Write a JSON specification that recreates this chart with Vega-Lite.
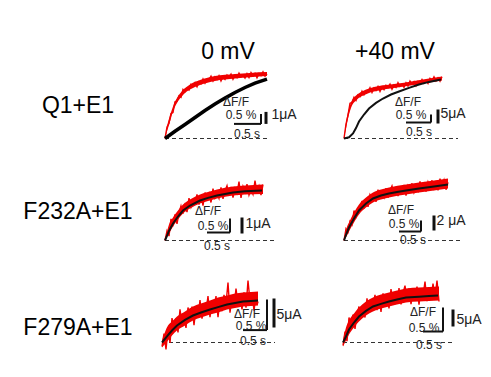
{
"$schema": "https://vega.github.io/schema/vega-lite/v6.json",
"padding": {"left": 23, "top": 40, "right": 0, "bottom": 0},
"background": "white",
"config": {"font": "Liberation Sans", "view": {"stroke": null}},
"datasets": {
"panels": [
{"p":1,"r":"Q1+E1","c":"0 mV"},{"p":2,"r":"Q1+E1","c":"+40 mV"},
{"p":3,"r":"F232A+E1","c":"0 mV"},{"p":4,"r":"F232A+E1","c":"+40 mV"},
{"p":5,"r":"F279A+E1","c":"0 mV"},{"p":6,"r":"F279A+E1","c":"+40 mV"}
],
"traces": [
{"p":1,"k":"R","t":0,"lo":0,"hi":0},{"p":1,"k":"R","t":0.04,"lo":0.35,"hi":0.6},{"p":1,"k":"R","t":0.1,"lo":0.85,"hi":1.15},{"p":1,"k":"R","t":0.16,"lo":1.35,"hi":1.6},{"p":1,"k":"R","t":0.24,"lo":1.78,"hi":2.02},{"p":1,"k":"R","t":0.36,"lo":2.18,"hi":2.42},{"p":1,"k":"R","t":0.5,"lo":2.45,"hi":2.7},{"p":1,"k":"R","t":0.7,"lo":2.68,"hi":2.92},{"p":1,"k":"R","t":1.0,"lo":2.88,"hi":3.12},{"p":1,"k":"R","t":1.4,"lo":3.0,"hi":3.22},{"p":1,"k":"R","t":1.7,"lo":3.06,"hi":3.28},{"p":1,"k":"R","t":2.04,"lo":3.12,"hi":3.32},
{"p":2,"k":"R","t":0,"lo":0,"hi":0},{"p":2,"k":"R","t":0.04,"lo":0.5,"hi":0.8},{"p":2,"k":"R","t":0.1,"lo":1.2,"hi":1.5},{"p":2,"k":"R","t":0.16,"lo":1.65,"hi":1.9},{"p":2,"k":"R","t":0.24,"lo":1.9,"hi":2.15},{"p":2,"k":"R","t":0.36,"lo":2.12,"hi":2.35},{"p":2,"k":"R","t":0.5,"lo":2.28,"hi":2.5},{"p":2,"k":"R","t":0.7,"lo":2.4,"hi":2.62},{"p":2,"k":"R","t":1.0,"lo":2.52,"hi":2.72},{"p":2,"k":"R","t":1.4,"lo":2.68,"hi":2.88},{"p":2,"k":"R","t":1.7,"lo":2.8,"hi":3.0},{"p":2,"k":"R","t":1.96,"lo":2.9,"hi":3.1},
{"p":3,"k":"R","t":0,"lo":0,"hi":0},{"p":3,"k":"R","t":0.08,"lo":0.35,"hi":0.8},{"p":3,"k":"R","t":0.16,"lo":0.7,"hi":1.15},{"p":3,"k":"R","t":0.26,"lo":1.05,"hi":1.5},{"p":3,"k":"R","t":0.36,"lo":1.35,"hi":1.8},{"p":3,"k":"R","t":0.5,"lo":1.6,"hi":2.05},{"p":3,"k":"R","t":0.7,"lo":1.85,"hi":2.3},{"p":3,"k":"R","t":0.86,"lo":1.98,"hi":2.42},{"p":3,"k":"R","t":1.04,"lo":2.1,"hi":2.55},{"p":3,"k":"R","t":1.36,"lo":2.25,"hi":2.7},{"p":3,"k":"R","t":1.6,"lo":2.3,"hi":2.75},{"p":3,"k":"R","t":1.96,"lo":2.33,"hi":2.8},
{"p":4,"k":"R","t":0,"lo":0,"hi":0},{"p":4,"k":"R","t":0.05,"lo":0.2,"hi":0.6},{"p":4,"k":"R","t":0.1,"lo":0.45,"hi":0.9},{"p":4,"k":"R","t":0.2,"lo":0.9,"hi":1.4},{"p":4,"k":"R","t":0.3,"lo":1.3,"hi":1.8},{"p":4,"k":"R","t":0.44,"lo":1.65,"hi":2.15},{"p":4,"k":"R","t":0.58,"lo":1.9,"hi":2.4},{"p":4,"k":"R","t":0.74,"lo":2.05,"hi":2.55},{"p":4,"k":"R","t":0.9,"lo":2.15,"hi":2.65},{"p":4,"k":"R","t":1.24,"lo":2.3,"hi":2.8},{"p":4,"k":"R","t":1.5,"lo":2.4,"hi":2.9},{"p":4,"k":"R","t":1.8,"lo":2.5,"hi":3.0},{"p":4,"k":"R","t":2.08,"lo":2.6,"hi":3.1},
{"p":5,"k":"R","t":-0.06,"lo":-0.25,"hi":0.1},{"p":5,"k":"R","t":0.06,"lo":0.1,"hi":0.85},{"p":5,"k":"R","t":0.14,"lo":0.35,"hi":1.05},{"p":5,"k":"R","t":0.24,"lo":0.6,"hi":1.3},{"p":5,"k":"R","t":0.4,"lo":0.85,"hi":1.55},{"p":5,"k":"R","t":0.56,"lo":1.1,"hi":1.8},{"p":5,"k":"R","t":0.72,"lo":1.25,"hi":1.95},{"p":5,"k":"R","t":0.9,"lo":1.4,"hi":2.1},{"p":5,"k":"R","t":1.06,"lo":1.5,"hi":2.25},{"p":5,"k":"R","t":1.24,"lo":1.65,"hi":2.35},{"p":5,"k":"R","t":1.4,"lo":1.72,"hi":2.45},{"p":5,"k":"R","t":1.56,"lo":1.8,"hi":2.5},{"p":5,"k":"R","t":1.72,"lo":1.83,"hi":2.53},{"p":5,"k":"R","t":1.86,"lo":1.85,"hi":2.55},
{"p":6,"k":"R","t":-0.02,"lo":-0.2,"hi":0.1},{"p":6,"k":"R","t":0.04,"lo":0.1,"hi":0.75},{"p":6,"k":"R","t":0.1,"lo":0.4,"hi":1.1},{"p":6,"k":"R","t":0.2,"lo":0.75,"hi":1.45},{"p":6,"k":"R","t":0.3,"lo":1.05,"hi":1.75},{"p":6,"k":"R","t":0.44,"lo":1.35,"hi":2.05},{"p":6,"k":"R","t":0.58,"lo":1.55,"hi":2.25},{"p":6,"k":"R","t":0.74,"lo":1.7,"hi":2.4},{"p":6,"k":"R","t":0.9,"lo":1.8,"hi":2.5},{"p":6,"k":"R","t":1.06,"lo":1.9,"hi":2.6},{"p":6,"k":"R","t":1.24,"lo":2.0,"hi":2.7},{"p":6,"k":"R","t":1.5,"lo":2.05,"hi":2.75},{"p":6,"k":"R","t":1.7,"lo":2.08,"hi":2.78},{"p":6,"k":"R","t":1.9,"lo":2.1,"hi":2.8},
{"p":1,"k":"F","t":0,"v":0},{"p":1,"k":"F","t":0.04,"v":0.57},{"p":1,"k":"F","t":0.08,"v":0.76},{"p":1,"k":"F","t":0.12,"v":1.25},{"p":1,"k":"F","t":0.16,"v":1.3},{"p":1,"k":"F","t":0.2,"v":1.84},{"p":1,"k":"F","t":0.24,"v":1.87},{"p":1,"k":"F","t":0.28,"v":2.13},{"p":1,"k":"F","t":0.32,"v":2.06},{"p":1,"k":"F","t":0.36,"v":2.45},{"p":1,"k":"F","t":0.4,"v":2.34},{"p":1,"k":"F","t":0.44,"v":2.5},{"p":1,"k":"F","t":0.48,"v":2.42},{"p":1,"k":"F","t":0.52,"v":2.71},{"p":1,"k":"F","t":0.56,"v":2.62},{"p":1,"k":"F","t":0.6,"v":2.79},{"p":1,"k":"F","t":0.64,"v":2.59},{"p":1,"k":"F","t":0.68,"v":2.84},{"p":1,"k":"F","t":0.72,"v":2.74},{"p":1,"k":"F","t":0.76,"v":2.98},{"p":1,"k":"F","t":0.8,"v":2.77},{"p":1,"k":"F","t":0.84,"v":2.97},{"p":1,"k":"F","t":0.88,"v":2.93},{"p":1,"k":"F","t":0.92,"v":3.12},{"p":1,"k":"F","t":0.96,"v":2.87},{"p":1,"k":"F","t":1.0,"v":3.08},{"p":1,"k":"F","t":1.04,"v":2.95},{"p":1,"k":"F","t":1.08,"v":3.14},{"p":1,"k":"F","t":1.12,"v":2.88},{"p":1,"k":"F","t":1.16,"v":3.09},{"p":1,"k":"F","t":1.2,"v":2.96},{"p":1,"k":"F","t":1.24,"v":3.17},{"p":1,"k":"F","t":1.28,"v":3.06},{"p":1,"k":"F","t":1.32,"v":3.22},{"p":1,"k":"F","t":1.36,"v":2.96},{"p":1,"k":"F","t":1.4,"v":3.16},{"p":1,"k":"F","t":1.44,"v":3.04},{"p":1,"k":"F","t":1.48,"v":3.27},{"p":1,"k":"F","t":1.52,"v":3.08},{"p":1,"k":"F","t":1.56,"v":3.16},{"p":1,"k":"F","t":1.6,"v":3.02},{"p":1,"k":"F","t":1.64,"v":3.24},{"p":1,"k":"F","t":1.68,"v":3.05},{"p":1,"k":"F","t":1.72,"v":3.3},{"p":1,"k":"F","t":1.76,"v":3.14},{"p":1,"k":"F","t":1.8,"v":3.26},{"p":1,"k":"F","t":1.84,"v":3.03},{"p":1,"k":"F","t":1.88,"v":3.24},{"p":1,"k":"F","t":1.92,"v":3.14},{"p":1,"k":"F","t":1.96,"v":3.33},{"p":1,"k":"F","t":2.0,"v":3.12},{"p":1,"k":"F","t":2.04,"v":3.24},
{"p":2,"k":"F","t":0,"v":0},{"p":2,"k":"F","t":0.04,"v":0.72},{"p":2,"k":"F","t":0.08,"v":1.17},{"p":2,"k":"F","t":0.12,"v":1.76},{"p":2,"k":"F","t":0.16,"v":1.81},{"p":2,"k":"F","t":0.2,"v":2.06},{"p":2,"k":"F","t":0.24,"v":1.9},{"p":2,"k":"F","t":0.28,"v":2.18},{"p":2,"k":"F","t":0.32,"v":2.1},{"p":2,"k":"F","t":0.36,"v":2.37},{"p":2,"k":"F","t":0.4,"v":2.18},{"p":2,"k":"F","t":0.44,"v":2.35},{"p":2,"k":"F","t":0.48,"v":2.33},{"p":2,"k":"F","t":0.52,"v":2.54},{"p":2,"k":"F","t":0.56,"v":2.3},{"p":2,"k":"F","t":0.6,"v":2.52},{"p":2,"k":"F","t":0.64,"v":2.4},{"p":2,"k":"F","t":0.68,"v":2.6},{"p":2,"k":"F","t":0.72,"v":2.35},{"p":2,"k":"F","t":0.76,"v":2.57},{"p":2,"k":"F","t":0.8,"v":2.44},{"p":2,"k":"F","t":0.84,"v":2.66},{"p":2,"k":"F","t":0.88,"v":2.55},{"p":2,"k":"F","t":0.92,"v":2.72},{"p":2,"k":"F","t":0.96,"v":2.46},{"p":2,"k":"F","t":1.0,"v":2.67},{"p":2,"k":"F","t":1.04,"v":2.55},{"p":2,"k":"F","t":1.08,"v":2.79},{"p":2,"k":"F","t":1.12,"v":2.61},{"p":2,"k":"F","t":1.16,"v":2.7},{"p":2,"k":"F","t":1.2,"v":2.56},{"p":2,"k":"F","t":1.24,"v":2.79},{"p":2,"k":"F","t":1.28,"v":2.62},{"p":2,"k":"F","t":1.32,"v":2.87},{"p":2,"k":"F","t":1.36,"v":2.72},{"p":2,"k":"F","t":1.4,"v":2.85},{"p":2,"k":"F","t":1.44,"v":2.63},{"p":2,"k":"F","t":1.48,"v":2.85},{"p":2,"k":"F","t":1.52,"v":2.76},{"p":2,"k":"F","t":1.56,"v":2.95},{"p":2,"k":"F","t":1.6,"v":2.76},{"p":2,"k":"F","t":1.64,"v":2.89},{"p":2,"k":"F","t":1.68,"v":2.75},{"p":2,"k":"F","t":1.72,"v":3.01},{"p":2,"k":"F","t":1.76,"v":2.88},{"p":2,"k":"F","t":1.8,"v":3.08},{"p":2,"k":"F","t":1.84,"v":2.88},{"p":2,"k":"F","t":1.88,"v":3.03},{"p":2,"k":"F","t":1.92,"v":2.86},{"p":2,"k":"F","t":1.96,"v":3.09},
{"p":3,"k":"F","t":0,"v":0},{"p":3,"k":"F","t":0.04,"v":0.48},{"p":3,"k":"F","t":0.08,"v":0.22},{"p":3,"k":"F","t":0.12,"v":1.08},{"p":3,"k":"F","t":0.16,"v":0.8},{"p":3,"k":"F","t":0.2,"v":1.3},{"p":3,"k":"F","t":0.24,"v":0.83},{"p":3,"k":"F","t":0.28,"v":1.39},{"p":3,"k":"F","t":0.32,"v":1.73},{"p":3,"k":"F","t":0.36,"v":1.34},{"p":3,"k":"F","t":0.4,"v":1.77},{"p":3,"k":"F","t":0.44,"v":1.42},{"p":3,"k":"F","t":0.48,"v":2.12},{"p":3,"k":"F","t":0.52,"v":1.67},{"p":3,"k":"F","t":0.56,"v":2.0},{"p":3,"k":"F","t":0.6,"v":1.88},{"p":3,"k":"F","t":0.64,"v":2.31},{"p":3,"k":"F","t":0.68,"v":1.79},{"p":3,"k":"F","t":0.72,"v":2.27},{"p":3,"k":"F","t":0.76,"v":1.74},{"p":3,"k":"F","t":0.8,"v":2.4},{"p":3,"k":"F","t":0.84,"v":2.12},{"p":3,"k":"F","t":0.88,"v":2.36},{"p":3,"k":"F","t":0.92,"v":1.9},{"p":3,"k":"F","t":0.96,"v":2.59},{"p":3,"k":"F","t":1.0,"v":2.13},{"p":3,"k":"F","t":1.04,"v":2.37},{"p":3,"k":"F","t":1.08,"v":2.11},{"p":3,"k":"F","t":1.12,"v":2.66},{"p":3,"k":"F","t":1.16,"v":2.08},{"p":3,"k":"F","t":1.2,"v":2.48},{"p":3,"k":"F","t":1.24,"v":2.74},{"p":3,"k":"F","t":1.28,"v":2.24},{"p":3,"k":"F","t":1.32,"v":2.68},{"p":3,"k":"F","t":1.36,"v":2.14},{"p":3,"k":"F","t":1.4,"v":2.6},{"p":3,"k":"F","t":1.44,"v":2.37},{"p":3,"k":"F","t":1.48,"v":2.95},{"p":3,"k":"F","t":1.52,"v":2.13},{"p":3,"k":"F","t":1.56,"v":2.7},{"p":3,"k":"F","t":1.6,"v":2.42},{"p":3,"k":"F","t":1.64,"v":2.82},{"p":3,"k":"F","t":1.68,"v":2.27},{"p":3,"k":"F","t":1.72,"v":2.56},{"p":3,"k":"F","t":1.76,"v":2.31},{"p":3,"k":"F","t":1.8,"v":3.0},{"p":3,"k":"F","t":1.84,"v":2.4},{"p":3,"k":"F","t":1.88,"v":2.72},{"p":3,"k":"F","t":1.92,"v":2.27},{"p":3,"k":"F","t":1.96,"v":2.8},
{"p":4,"k":"F","t":0,"v":0},{"p":4,"k":"F","t":0.04,"v":0.59},{"p":4,"k":"F","t":0.08,"v":0.42},{"p":4,"k":"F","t":0.12,"v":0.95},{"p":4,"k":"F","t":0.16,"v":0.79},{"p":4,"k":"F","t":0.2,"v":1.5},{"p":4,"k":"F","t":0.24,"v":1.2},{"p":4,"k":"F","t":0.28,"v":1.58},{"p":4,"k":"F","t":0.32,"v":1.55},{"p":4,"k":"F","t":0.36,"v":1.98},{"p":4,"k":"F","t":0.4,"v":1.6},{"p":4,"k":"F","t":0.44,"v":2.08},{"p":4,"k":"F","t":0.48,"v":1.68},{"p":4,"k":"F","t":0.52,"v":2.29},{"p":4,"k":"F","t":0.56,"v":2.09},{"p":4,"k":"F","t":0.6,"v":2.31},{"p":4,"k":"F","t":0.64,"v":1.93},{"p":4,"k":"F","t":0.68,"v":2.54},{"p":4,"k":"F","t":0.72,"v":2.15},{"p":4,"k":"F","t":0.76,"v":2.36},{"p":4,"k":"F","t":0.8,"v":2.15},{"p":4,"k":"F","t":0.84,"v":2.62},{"p":4,"k":"F","t":0.88,"v":2.14},{"p":4,"k":"F","t":0.92,"v":2.5},{"p":4,"k":"F","t":0.96,"v":2.73},{"p":4,"k":"F","t":1.0,"v":2.3},{"p":4,"k":"F","t":1.04,"v":2.68},{"p":4,"k":"F","t":1.08,"v":2.22},{"p":4,"k":"F","t":1.12,"v":2.63},{"p":4,"k":"F","t":1.16,"v":2.43},{"p":4,"k":"F","t":1.2,"v":2.78},{"p":4,"k":"F","t":1.24,"v":2.25},{"p":4,"k":"F","t":1.28,"v":2.74},{"p":4,"k":"F","t":1.32,"v":2.52},{"p":4,"k":"F","t":1.36,"v":2.86},{"p":4,"k":"F","t":1.4,"v":2.4},{"p":4,"k":"F","t":1.44,"v":2.65},{"p":4,"k":"F","t":1.48,"v":2.46},{"p":4,"k":"F","t":1.52,"v":2.95},{"p":4,"k":"F","t":1.56,"v":2.54},{"p":4,"k":"F","t":1.6,"v":2.83},{"p":4,"k":"F","t":1.64,"v":2.45},{"p":4,"k":"F","t":1.68,"v":2.92},{"p":4,"k":"F","t":1.72,"v":2.63},{"p":4,"k":"F","t":1.76,"v":3.01},{"p":4,"k":"F","t":1.8,"v":2.6},{"p":4,"k":"F","t":1.84,"v":2.91},{"p":4,"k":"F","t":1.88,"v":2.51},{"p":4,"k":"F","t":1.92,"v":3.09},{"p":4,"k":"F","t":1.96,"v":2.72},{"p":4,"k":"F","t":2.0,"v":3.03},{"p":4,"k":"F","t":2.04,"v":2.54},{"p":4,"k":"F","t":2.08,"v":2.91},
{"p":5,"k":"F","t":-0.06,"v":-0.2},{"p":5,"k":"F","t":-0.02,"v":0.45},{"p":5,"k":"F","t":0.02,"v":-0.35},{"p":5,"k":"F","t":0.06,"v":0.65},{"p":5,"k":"F","t":0.1,"v":-0.02},{"p":5,"k":"F","t":0.14,"v":1.22},{"p":5,"k":"F","t":0.18,"v":0.66},{"p":5,"k":"F","t":0.22,"v":1.2},{"p":5,"k":"F","t":0.26,"v":0.5},{"p":5,"k":"F","t":0.3,"v":1.66},{"p":5,"k":"F","t":0.34,"v":0.89},{"p":5,"k":"F","t":0.38,"v":1.26},{"p":5,"k":"F","t":0.42,"v":0.73},{"p":5,"k":"F","t":0.46,"v":1.75},{"p":5,"k":"F","t":0.5,"v":1.21},{"p":5,"k":"F","t":0.54,"v":1.8},{"p":5,"k":"F","t":0.58,"v":0.87},{"p":5,"k":"F","t":0.62,"v":1.75},{"p":5,"k":"F","t":0.66,"v":1.25},{"p":5,"k":"F","t":0.7,"v":2.12},{"p":5,"k":"F","t":0.74,"v":1.19},{"p":5,"k":"F","t":0.78,"v":1.77},{"p":5,"k":"F","t":0.82,"v":1.56},{"p":5,"k":"F","t":0.86,"v":2.32},{"p":5,"k":"F","t":0.9,"v":1.27},{"p":5,"k":"F","t":0.94,"v":2.08},{"p":5,"k":"F","t":0.98,"v":1.57},{"p":5,"k":"F","t":1.02,"v":2.32},{"p":5,"k":"F","t":1.06,"v":1.27},{"p":5,"k":"F","t":1.1,"v":2.08},{"p":5,"k":"F","t":1.14,"v":1.57},{"p":5,"k":"F","t":1.18,"v":2.38},{"p":5,"k":"F","t":1.22,"v":1.93},{"p":5,"k":"F","t":1.26,"v":3.0},{"p":5,"k":"F","t":1.3,"v":1.49},{"p":5,"k":"F","t":1.34,"v":2.29},{"p":5,"k":"F","t":1.38,"v":1.77},{"p":5,"k":"F","t":1.42,"v":2.69},{"p":5,"k":"F","t":1.46,"v":1.93},{"p":5,"k":"F","t":1.5,"v":2.25},{"p":5,"k":"F","t":1.54,"v":1.66},{"p":5,"k":"F","t":1.58,"v":2.51},{"p":5,"k":"F","t":1.62,"v":1.74},{"p":5,"k":"F","t":1.66,"v":3.1},{"p":5,"k":"F","t":1.7,"v":2.06},{"p":5,"k":"F","t":1.74,"v":2.48},{"p":5,"k":"F","t":1.78,"v":1.59},{"p":5,"k":"F","t":1.82,"v":2.38},{"p":5,"k":"F","t":1.86,"v":1.96},
{"p":6,"k":"F","t":-0.02,"v":-0.15},{"p":6,"k":"F","t":0.02,"v":0.55},{"p":6,"k":"F","t":0.06,"v":0.07},{"p":6,"k":"F","t":0.1,"v":1.25},{"p":6,"k":"F","t":0.14,"v":0.75},{"p":6,"k":"F","t":0.18,"v":1.4},{"p":6,"k":"F","t":0.22,"v":0.68},{"p":6,"k":"F","t":0.26,"v":1.4},{"p":6,"k":"F","t":0.3,"v":1.8},{"p":6,"k":"F","t":0.34,"v":1.19},{"p":6,"k":"F","t":0.38,"v":1.77},{"p":6,"k":"F","t":0.42,"v":1.25},{"p":6,"k":"F","t":0.46,"v":2.21},{"p":6,"k":"F","t":0.5,"v":1.52},{"p":6,"k":"F","t":0.54,"v":1.98},{"p":6,"k":"F","t":0.58,"v":1.8},{"p":6,"k":"F","t":0.62,"v":2.38},{"p":6,"k":"F","t":0.66,"v":1.62},{"p":6,"k":"F","t":0.7,"v":2.3},{"p":6,"k":"F","t":0.74,"v":1.53},{"p":6,"k":"F","t":0.78,"v":2.46},{"p":6,"k":"F","t":0.82,"v":2.04},{"p":6,"k":"F","t":0.86,"v":2.37},{"p":6,"k":"F","t":0.9,"v":1.7},{"p":6,"k":"F","t":0.94,"v":2.67},{"p":6,"k":"F","t":0.98,"v":2.0},{"p":6,"k":"F","t":1.02,"v":2.32},{"p":6,"k":"F","t":1.06,"v":1.95},{"p":6,"k":"F","t":1.1,"v":2.72},{"p":6,"k":"F","t":1.14,"v":1.9},{"p":6,"k":"F","t":1.18,"v":2.47},{"p":6,"k":"F","t":1.22,"v":2.84},{"p":6,"k":"F","t":1.26,"v":2.1},{"p":6,"k":"F","t":1.3,"v":2.71},{"p":6,"k":"F","t":1.34,"v":1.92},{"p":6,"k":"F","t":1.38,"v":2.57},{"p":6,"k":"F","t":1.42,"v":2.23},{"p":6,"k":"F","t":1.46,"v":2.79},{"p":6,"k":"F","t":1.5,"v":1.89},{"p":6,"k":"F","t":1.54,"v":2.7},{"p":6,"k":"F","t":1.58,"v":2.31},{"p":6,"k":"F","t":1.62,"v":3.05},{"p":6,"k":"F","t":1.66,"v":2.07},{"p":6,"k":"F","t":1.7,"v":2.48},{"p":6,"k":"F","t":1.74,"v":2.13},{"p":6,"k":"F","t":1.78,"v":2.94},{"p":6,"k":"F","t":1.82,"v":2.24},{"p":6,"k":"F","t":1.86,"v":3.1},{"p":6,"k":"F","t":1.9,"v":2.05},
{"p":1,"k":"I","t":0,"v":0},{"p":1,"k":"I","t":0.2,"v":0.36},{"p":1,"k":"I","t":0.4,"v":0.7},{"p":1,"k":"I","t":0.6,"v":1.05},{"p":1,"k":"I","t":0.8,"v":1.4},{"p":1,"k":"I","t":1.0,"v":1.72},{"p":1,"k":"I","t":1.2,"v":2.02},{"p":1,"k":"I","t":1.4,"v":2.3},{"p":1,"k":"I","t":1.6,"v":2.55},{"p":1,"k":"I","t":1.8,"v":2.77},{"p":1,"k":"I","t":2.04,"v":2.97},
{"p":2,"k":"I","t":0,"v":0},{"p":2,"k":"I","t":0.1,"v":0.06},{"p":2,"k":"I","t":0.18,"v":0.25},{"p":2,"k":"I","t":0.24,"v":0.52},{"p":2,"k":"I","t":0.3,"v":0.85},{"p":2,"k":"I","t":0.4,"v":1.2},{"p":2,"k":"I","t":0.5,"v":1.5},{"p":2,"k":"I","t":0.64,"v":1.78},{"p":2,"k":"I","t":0.78,"v":2.0},{"p":2,"k":"I","t":0.94,"v":2.2},{"p":2,"k":"I","t":1.1,"v":2.35},{"p":2,"k":"I","t":1.3,"v":2.53},{"p":2,"k":"I","t":1.5,"v":2.7},{"p":2,"k":"I","t":1.7,"v":2.83},{"p":2,"k":"I","t":1.94,"v":2.95},
{"p":3,"k":"I","t":0,"v":0},{"p":3,"k":"I","t":0.08,"v":0.48},{"p":3,"k":"I","t":0.16,"v":0.85},{"p":3,"k":"I","t":0.26,"v":1.2},{"p":3,"k":"I","t":0.36,"v":1.5},{"p":3,"k":"I","t":0.5,"v":1.75},{"p":3,"k":"I","t":0.7,"v":2.0},{"p":3,"k":"I","t":0.86,"v":2.13},{"p":3,"k":"I","t":1.04,"v":2.25},{"p":3,"k":"I","t":1.2,"v":2.33},{"p":3,"k":"I","t":1.36,"v":2.4},{"p":3,"k":"I","t":1.6,"v":2.46},{"p":3,"k":"I","t":1.94,"v":2.5},
{"p":4,"k":"I","t":0,"v":0},{"p":4,"k":"I","t":0.05,"v":0.35},{"p":4,"k":"I","t":0.1,"v":0.65},{"p":4,"k":"I","t":0.2,"v":1.1},{"p":4,"k":"I","t":0.3,"v":1.5},{"p":4,"k":"I","t":0.44,"v":1.85},{"p":4,"k":"I","t":0.58,"v":2.1},{"p":4,"k":"I","t":0.74,"v":2.25},{"p":4,"k":"I","t":0.9,"v":2.35},{"p":4,"k":"I","t":1.06,"v":2.43},{"p":4,"k":"I","t":1.24,"v":2.5},{"p":4,"k":"I","t":1.5,"v":2.6},{"p":4,"k":"I","t":1.8,"v":2.7},{"p":4,"k":"I","t":2.08,"v":2.8},
{"p":5,"k":"I","t":-0.06,"v":0},{"p":5,"k":"I","t":0.06,"v":0.37},{"p":5,"k":"I","t":0.14,"v":0.6},{"p":5,"k":"I","t":0.24,"v":0.85},{"p":5,"k":"I","t":0.4,"v":1.13},{"p":5,"k":"I","t":0.56,"v":1.35},{"p":5,"k":"I","t":0.72,"v":1.5},{"p":5,"k":"I","t":0.9,"v":1.65},{"p":5,"k":"I","t":1.06,"v":1.77},{"p":5,"k":"I","t":1.24,"v":1.9},{"p":5,"k":"I","t":1.4,"v":1.98},{"p":5,"k":"I","t":1.56,"v":2.05},{"p":5,"k":"I","t":1.72,"v":2.08},{"p":5,"k":"I","t":1.86,"v":2.1},
{"p":6,"k":"I","t":-0.02,"v":0},{"p":6,"k":"I","t":0.04,"v":0.3},{"p":6,"k":"I","t":0.1,"v":0.65},{"p":6,"k":"I","t":0.2,"v":1.0},{"p":6,"k":"I","t":0.3,"v":1.3},{"p":6,"k":"I","t":0.44,"v":1.58},{"p":6,"k":"I","t":0.58,"v":1.8},{"p":6,"k":"I","t":0.74,"v":1.93},{"p":6,"k":"I","t":0.9,"v":2.05},{"p":6,"k":"I","t":1.06,"v":2.15},{"p":6,"k":"I","t":1.24,"v":2.25},{"p":6,"k":"I","t":1.5,"v":2.29},{"p":6,"k":"I","t":1.7,"v":2.33},{"p":6,"k":"I","t":1.88,"v":2.35},
{"p":1,"k":"B","t":0,"t2":2.04,"v":0},{"p":2,"k":"B","t":0,"t2":2.28,"v":0},{"p":3,"k":"B","t":0,"t2":2.2,"v":0},{"p":4,"k":"B","t":0,"t2":2.34,"v":0},{"p":5,"k":"B","t":-0.06,"t2":2.2,"v":0},{"p":6,"k":"B","t":-0.02,"t2":2.18,"v":0},
{"p":1,"k":"L","t":1.38,"t2":1.92,"v":0.73,"v2":0.73},{"p":1,"k":"L","t":1.92,"t2":1.92,"v":0.73,"v2":1.23},
{"p":2,"k":"L","t":1.24,"t2":1.74,"v":0.8,"v2":0.8},{"p":2,"k":"L","t":1.74,"t2":1.74,"v":0.8,"v2":1.2},
{"p":3,"k":"L","t":0.84,"t2":1.3,"v":0.4,"v2":0.4},{"p":3,"k":"L","t":1.3,"t2":1.3,"v":0.4,"v2":1.1},
{"p":4,"k":"L","t":1.1,"t2":1.54,"v":0.45,"v2":0.45},{"p":4,"k":"L","t":1.54,"t2":1.54,"v":0.45,"v2":1.0},
{"p":5,"k":"L","t":1.56,"t2":2.04,"v":0.62,"v2":0.62},{"p":5,"k":"L","t":2.04,"t2":2.04,"v":0.62,"v2":2.15},
{"p":6,"k":"L","t":1.58,"t2":1.98,"v":0.55,"v2":0.55},{"p":6,"k":"L","t":1.98,"t2":1.98,"v":0.55,"v2":1.75},
{"p":1,"k":"C","t":2.02,"v":0.73,"v2":1.33},{"p":2,"k":"C","t":1.88,"v":0.75,"v2":1.45},{"p":3,"k":"C","t":1.54,"v":0.35,"v2":1.15},{"p":4,"k":"C","t":1.8,"v":0.5,"v2":1.25},{"p":5,"k":"C","t":2.18,"v":0.75,"v2":2.2},{"p":6,"k":"C","t":2.18,"v":0.8,"v2":1.65},
{"p":1,"k":"T","t":1.42,"v":1.83,"txt":"ΔF/F"},{"p":1,"k":"T","t":1.52,"v":1.18,"txt":"0.5 %"},{"p":1,"k":"T","t":1.64,"v":0.23,"txt":"0.5 s"},{"p":1,"k":"U","t":2.38,"v":1.18,"txt":"1μA"},
{"p":2,"k":"T","t":1.28,"v":1.85,"txt":"ΔF/F"},{"p":2,"k":"T","t":1.34,"v":1.2,"txt":"0.5 %"},{"p":2,"k":"T","t":1.5,"v":0.35,"txt":"0.5 s"},{"p":2,"k":"U","t":2.18,"v":1.25,"txt":"5μA"},
{"p":3,"k":"T","t":0.86,"v":1.5,"txt":"ΔF/F"},{"p":3,"k":"T","t":0.96,"v":0.75,"txt":"0.5 %"},{"p":3,"k":"T","t":1.04,"v":-0.25,"txt":"0.5 s"},{"p":3,"k":"U","t":1.86,"v":0.85,"txt":"1μA"},
{"p":4,"k":"T","t":1.14,"v":1.55,"txt":"ΔF/F"},{"p":4,"k":"T","t":1.2,"v":0.85,"txt":"0.5 %"},{"p":4,"k":"T","t":1.38,"v":0.05,"txt":"0.5 s"},{"p":4,"k":"U","t":2.14,"v":1.0,"txt":"2 μA"},
{"p":5,"k":"T","t":1.64,"v":1.45,"txt":"ΔF/F"},{"p":5,"k":"T","t":1.72,"v":0.85,"txt":"0.5 %"},{"p":5,"k":"T","t":1.76,"v":0.1,"txt":"0.5 s"},{"p":5,"k":"U","t":2.48,"v":1.4,"txt":"5μA"},
{"p":6,"k":"T","t":1.58,"v":1.55,"txt":"ΔF/F"},{"p":6,"k":"T","t":1.6,"v":0.72,"txt":"0.5 %"},{"p":6,"k":"T","t":1.7,"v":-0.1,"txt":"0.5 s"},{"p":6,"k":"U","t":2.5,"v":1.12,"txt":"5μA"},
{"p":1,"k":"H","t":1.26,"v":4.35,"txt":"0 mV"},{"p":2,"k":"H","t":1.02,"v":4.35,"txt":"+40 mV"},
{"p":1,"k":"H","t":-1.74,"v":1.65,"txt":"Q1+E1"},{"p":3,"k":"H","t":-1.74,"v":1.45,"txt":"F232A+E1"},{"p":5,"k":"H","t":-1.74,"v":0.75,"txt":"F279A+E1"}
]
},
"data": {"name": "traces"},
"transform": [{"lookup": "p", "from": {"data": {"name": "panels"}, "key": "p", "fields": ["r", "c"]}}],
"facet": {
"row": {"field": "r", "type": "nominal", "sort": ["Q1+E1", "F232A+E1", "F279A+E1"], "title": null, "header": {"labels": false}},
"column": {"field": "c", "type": "nominal", "sort": ["0 mV", "+40 mV"], "title": null, "header": {"labels": false}}
},
"spacing": {"row": 12, "column": 23},
"spec": {
"width": 150,
"height": 90,
"encoding": {
 "x": {"field": "t", "type": "quantitative", "scale": {"domain": [-0.36, 2.64], "nice": false, "zero": false}, "axis": null},
 "y": {"field": "v", "type": "quantitative", "scale": {"domain": [-0.925, 3.575], "nice": false, "zero": false}, "axis": null}
},
"layer": [
 {"transform": [{"filter": "datum.k == 'B'"}], "mark": {"type": "rule", "color": "#333", "strokeWidth": 1, "strokeDash": [4, 3]}, "encoding": {"x2": {"field": "t2"}}},
 {"transform": [{"filter": "datum.k == 'R'"}], "mark": {"type": "area", "color": "#f00000", "opacity": 1, "interpolate": "monotone"}, "encoding": {"y": {"field": "lo", "type": "quantitative", "scale": {"domain": [-0.925, 3.575], "nice": false, "zero": false}, "axis": null}, "y2": {"field": "hi"}}},
 {"transform": [{"filter": "datum.k == 'F'"}], "mark": {"type": "line", "color": "#f00000", "strokeWidth": 1.4}},
 {"transform": [{"filter": "datum.k == 'I' && datum.p == 1"}], "mark": {"type": "line", "color": "#000", "strokeWidth": 3.5}},
 {"transform": [{"filter": "datum.k == 'I' && datum.p != 1"}], "mark": {"type": "line", "color": "#111", "strokeWidth": 2}},
 {"transform": [{"filter": "datum.k == 'L'"}], "mark": {"type": "rule", "color": "#111", "strokeWidth": 2}, "encoding": {"x2": {"field": "t2"}, "y2": {"field": "v2"}}},
 {"transform": [{"filter": "datum.k == 'C'"}], "mark": {"type": "rule", "color": "#111", "strokeWidth": 3}, "encoding": {"y2": {"field": "v2"}}},
 {"transform": [{"filter": "datum.k == 'T'"}], "mark": {"type": "text", "fontSize": 12, "color": "#222", "align": "center", "baseline": "middle"}, "encoding": {"text": {"field": "txt"}}},
 {"transform": [{"filter": "datum.k == 'U'"}], "mark": {"type": "text", "fontSize": 14, "color": "#222", "align": "center", "baseline": "middle"}, "encoding": {"text": {"field": "txt"}}},
 {"transform": [{"filter": "datum.k == 'H'"}], "mark": {"type": "text", "fontSize": 23, "color": "#000", "align": "center", "baseline": "middle"}, "encoding": {"text": {"field": "txt"}}}
]
}
}
